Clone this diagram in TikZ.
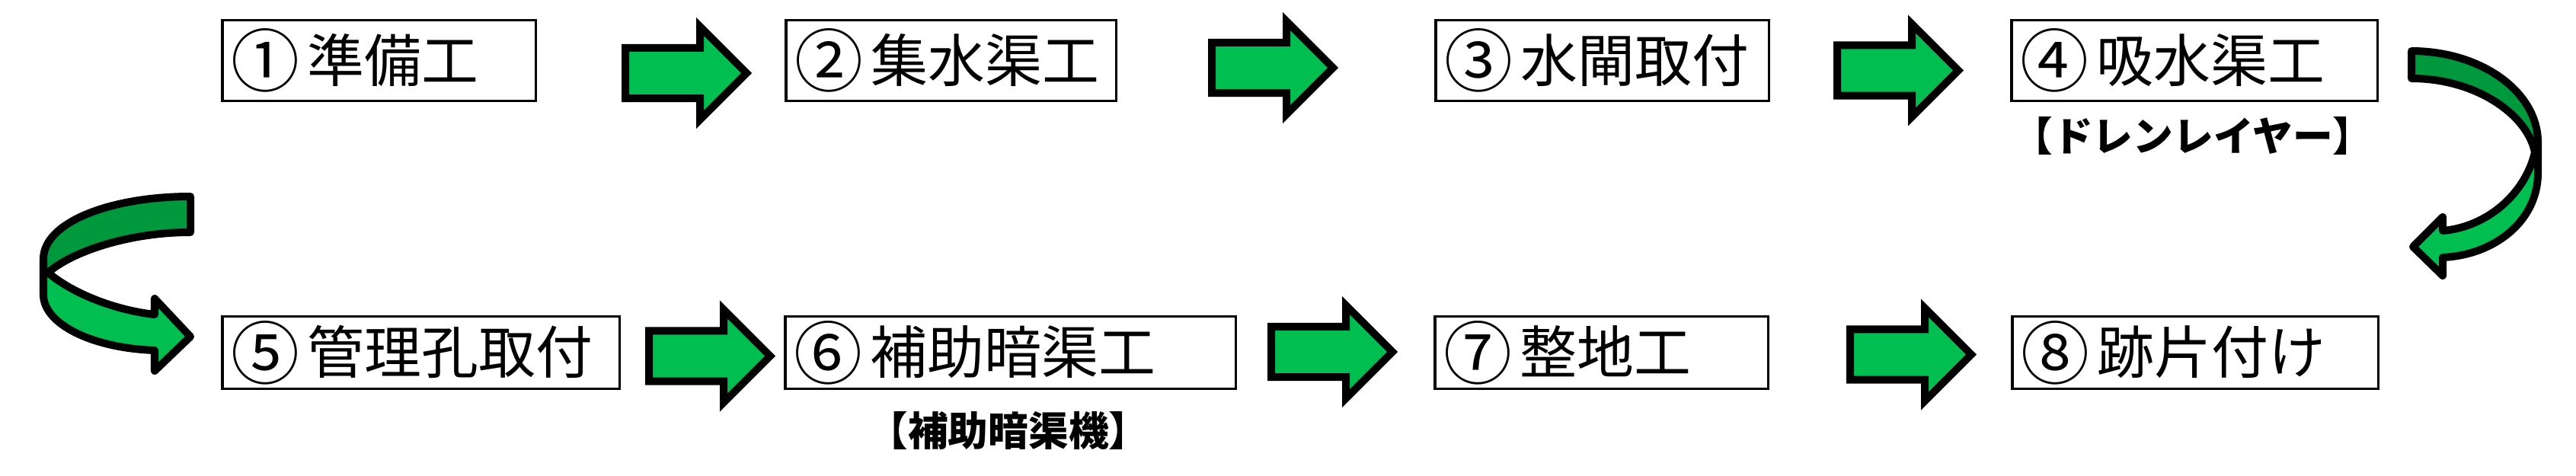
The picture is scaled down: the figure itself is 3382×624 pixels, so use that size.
\documentclass[tikz,border=0pt]{standalone}
\usepackage{graphicx}
\usepackage{fontspec}
\setmainfont{Noto Sans CJK JP}
\usetikzlibrary{shapes.arrows}
\definecolor{ArrowGreen}{HTML}{00BE50}
\definecolor{DeepGreen}{HTML}{00983C}
\newcommand\stepno[1]{\makebox[1em][c]{\hspace{0.15cm}\raisebox{-1.8pt}{\scalebox{1.2}{#1}}}}
\tikzset{
 stepbox/.style={draw, line width=1pt, fill=white, anchor=west, inner xsep=0.12cm, inner ysep=0pt, align=left, text width=#1, font=\fontsize{21.3}{25}\selectfont},
 toprow/.style={minimum height=1.055cm},
 lowrow/.style={minimum height=0.945cm},
 note/.style={inner sep=0pt, font=\fontsize{15}{18}\selectfont\bfseries},
 blockarrow/.style={single arrow, draw, fill=ArrowGreen, line width=0.1cm, anchor=tail, inner xsep=0pt, inner ysep=0.28cm, minimum height=1.59cm, single arrow head extend=0.28cm},
 band/.style={draw, line width=0.1cm, line join=round}
}
\begin{document}
\begin{tikzpicture}[x=0.01cm,y=-0.01cm]
\useasboundingbox (0,0) rectangle (3382,624);
% upper row
\node[stepbox=3.875cm, toprow] (s1) at (290,79.5) {\stepno{①} 準備工};
\node[stepbox=4.095cm, toprow] (s2) at (1030,79.5) {\stepno{②} 集水渠工};
\node[stepbox=4.135cm, toprow] (s3) at (1883,79.5) {\stepno{③} 水閘取付};
\node[stepbox=4.565cm, toprow] (s4) at (2639,79.5) {\stepno{④} 吸水渠工};
\node[note] (n4) at (2879,178.5) {【ドレンレイヤー】};
% lower row
\node[stepbox=4.975cm, lowrow] (s5) at (290,463) {\stepno{⑤} 管理孔取付};
\node[stepbox=5.675cm, lowrow] (s6) at (1029,463) {\stepno{⑥} 補助暗渠工};
\node[stepbox=4.135cm, lowrow] (s7) at (1882,463) {\stepno{⑦} 整地工};
\node[stepbox=4.565cm, lowrow] (s8) at (2640,463) {\stepno{⑧} 跡片付け};
\node[note] (n6) at (1324,565.5) {【補助暗渠機】};
% straight arrows
\node[blockarrow] (a1) at (816,96) {};
\node[blockarrow] (a2) at (1586,89) {};
\node[blockarrow] (a3) at (2407,92.5) {};
\node[blockarrow] (a5) at (847,467.5) {};
\node[blockarrow] (a6) at (1664,462) {};
\node[blockarrow] (a7) at (2424,465.5) {};
% turn from 4 to 8
\draw[band, fill=ArrowGreen] (3328,200) -- (3332,200) -- (3332,227)
  .. controls (3332,290) and (3275,335) .. (3207,338) -- (3207,362) -- (3168,324) -- (3207,285) -- (3207,303)
  .. controls (3265,298) and (3315,255) .. (3328,200) -- cycle;
\draw[band, fill=DeepGreen] (3166,67) .. controls (3258,67) and (3332,121) .. (3332,187) -- (3332,200) -- (3328,200)
  .. controls (3318,150) and (3250,103) .. (3166,103) -- cycle;
% turn into 5
\draw[band, fill=ArrowGreen] (63,358) -- (57,358) -- (57,387)
  .. controls (57,425) and (120,457) .. (203,460) -- (203,487) -- (250,442) -- (203,392) -- (203,413)
  .. controls (150,407) and (95,385) .. (63,358) -- cycle;
\draw[band, fill=DeepGreen] (250,258) .. controls (145,258) and (57,292) .. (57,340) -- (57,358) -- (63,358)
  .. controls (95,330) and (170,305) .. (250,305) -- cycle;
\end{tikzpicture}
\end{document}
